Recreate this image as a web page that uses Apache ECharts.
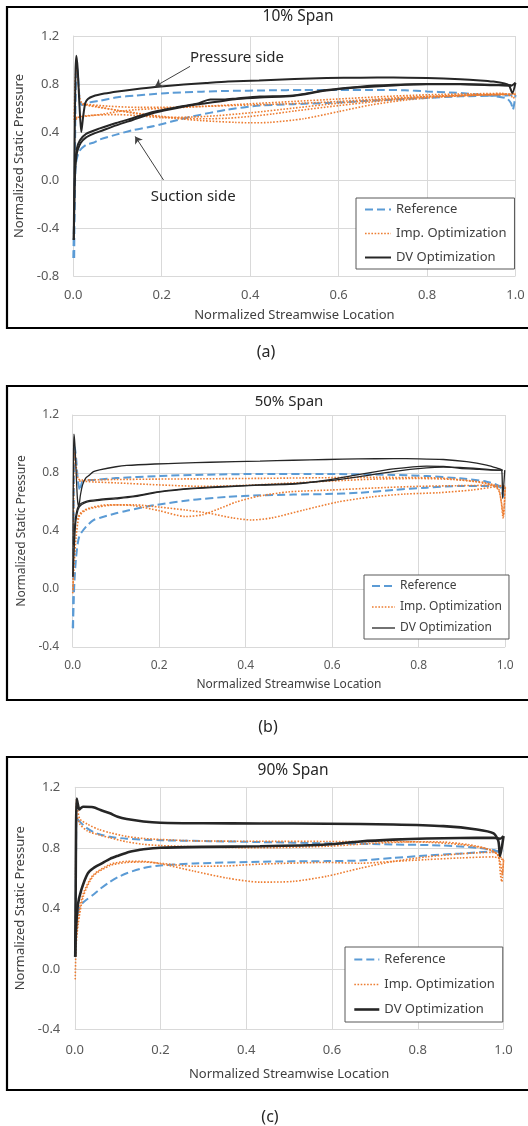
<!DOCTYPE html>
<html>
<head>
<meta charset="utf-8">
<script src="https://cdn.jsdelivr.net/npm/echarts@6/dist/echarts.min.js"></script>
<style>html,body{margin:0;padding:0;background:#fff}#c{width:528px;height:1126px}</style>
</head>
<body>
<div id="c"></div>
<script>
// ---------- tick labels / categories ----------
const seriesNames = ['Reference', 'Imp. Optimization', 'DV Optimization'];
const panelTitles = ['10% Span', '50% Span', '90% Span'];
const panelTags = ['(a)', '(b)', '(c)'];
const xTitle = 'Normalized Streamwise Location';
const yTitle = 'Normalized Static Pressure';
const yMins = [-0.8, -0.4, -0.4];
const yMaxs = [1.2, 1.2, 1.2];

// ---------- Panel (a) 10% span ----------
const a_ref_ps = [[0.002,-0.65],[0.004,0.3],[0.006,0.85],[0.008,0.95],[0.011,0.85],[0.015,0.65],[0.02,0.625],[0.029,0.64],[0.059,0.66],[0.1,0.69],[0.139,0.703],[0.183,0.717],[0.215,0.725],[0.291,0.736],[0.35,0.742],[0.444,0.747],[0.52,0.75],[0.6,0.75],[0.7,0.75],[0.75,0.748],[0.8,0.738],[0.85,0.73],[0.9,0.718],[0.95,0.7],[0.98,0.68],[0.99,0.64],[0.994,0.586],[1.0,0.71]];
const a_ref_ss = [[0.0,-0.65],[0.002,-0.3],[0.004,0.0],[0.006,0.14],[0.0136,0.24],[0.029,0.294],[0.045,0.31],[0.059,0.336],[0.097,0.378],[0.134,0.415],[0.183,0.45],[0.22,0.485],[0.27,0.53],[0.347,0.586],[0.422,0.62],[0.497,0.632],[0.573,0.642],[0.649,0.656],[0.724,0.67],[0.8,0.683],[0.875,0.697],[0.95,0.703],[0.98,0.705],[1.0,0.71]];
const a_imp_1 = [[0.002,0.5],[0.004,0.8],[0.007,0.95],[0.01,0.85],[0.015,0.68],[0.02,0.64],[0.035,0.625],[0.07,0.6],[0.1,0.58],[0.139,0.56],[0.2,0.525],[0.29,0.495],[0.367,0.48],[0.4,0.477],[0.444,0.48],[0.52,0.51],[0.6,0.57],[0.672,0.625],[0.748,0.665],[0.825,0.69],[0.9,0.705],[0.95,0.712],[0.98,0.715],[1.0,0.72]];
const a_imp_2 = [[0.002,0.48],[0.01,0.52],[0.03,0.535],[0.06,0.545],[0.1,0.57],[0.14,0.585],[0.215,0.6],[0.29,0.612],[0.37,0.622],[0.444,0.63],[0.52,0.64],[0.6,0.655],[0.675,0.672],[0.75,0.69],[0.825,0.7],[0.9,0.71],[0.98,0.715],[1.0,0.72]];
const a_imp_3 = [[0.02,0.63],[0.05,0.61],[0.1,0.58],[0.15,0.55],[0.2,0.53],[0.25,0.515],[0.3,0.51],[0.35,0.515],[0.4,0.53],[0.45,0.55],[0.5,0.575],[0.6,0.62],[0.7,0.66],[0.8,0.69],[0.9,0.705],[0.98,0.712]];
const a_imp_4 = [[0.03,0.63],[0.08,0.615],[0.15,0.605],[0.2,0.605],[0.3,0.615],[0.4,0.635],[0.5,0.655],[0.6,0.675],[0.7,0.695],[0.8,0.71],[0.9,0.718],[0.97,0.722],[0.99,0.7],[0.995,0.68],[1.0,0.73]];
const a_imp_5 = [[0.006,0.52],[0.05,0.54],[0.1,0.545],[0.15,0.535],[0.2,0.52],[0.3,0.53],[0.4,0.56],[0.5,0.6],[0.6,0.64],[0.7,0.67],[0.8,0.695],[0.9,0.708],[0.98,0.715]];
const a_dv_ps = [[0.001,-0.5],[0.003,0.3],[0.005,0.9],[0.007,1.035],[0.01,0.92],[0.014,0.62],[0.018,0.4],[0.022,0.52],[0.027,0.64],[0.033,0.675],[0.045,0.698],[0.07,0.72],[0.1,0.738],[0.14,0.757],[0.185,0.775],[0.25,0.795],[0.3,0.808],[0.35,0.82],[0.42,0.83],[0.5,0.842],[0.573,0.85],[0.65,0.853],[0.724,0.855],[0.8,0.85],[0.875,0.84],[0.92,0.83],[0.95,0.82],[0.975,0.805],[0.985,0.79],[0.993,0.725],[1.0,0.81]];
const a_dv_ss1 = [[0.001,-0.5],[0.003,-0.1],[0.0045,0.09],[0.007,0.2],[0.01,0.25],[0.017,0.31],[0.029,0.355],[0.045,0.385],[0.06,0.405],[0.097,0.455],[0.134,0.5],[0.183,0.56],[0.22,0.59],[0.27,0.625],[0.3,0.64],[0.33,0.655],[0.37,0.675],[0.422,0.688],[0.497,0.7],[0.573,0.745],[0.649,0.772],[0.724,0.788],[0.8,0.797],[0.875,0.797],[0.95,0.79],[0.99,0.786],[1.0,0.81]];
const a_dv_ss2 = [[0.004,0.12],[0.008,0.26],[0.015,0.33],[0.029,0.385],[0.06,0.43],[0.097,0.475],[0.134,0.515],[0.183,0.57],[0.24,0.61],[0.28,0.635],[0.31,0.67],[0.34,0.67],[0.37,0.68],[0.422,0.695],[0.497,0.705],[0.573,0.75],[0.649,0.778],[0.724,0.793],[0.8,0.8],[0.875,0.8],[0.95,0.793],[0.99,0.79]];

// ---------- Panel (b) 50% span ----------
const b_ref_ps = [[0.001,-0.27],[0.002,0.3],[0.003,0.8],[0.005,0.98],[0.008,0.9],[0.012,0.75],[0.017,0.68],[0.023,0.745],[0.048,0.752],[0.1,0.765],[0.2,0.779],[0.3,0.788],[0.433,0.793],[0.587,0.793],[0.741,0.787],[0.818,0.779],[0.895,0.763],[0.957,0.74],[0.988,0.706],[0.996,0.637],[1.0,0.7]];
const b_ref_ss = [[0.0,-0.27],[0.002,-0.1],[0.004,0.05],[0.008,0.223],[0.015,0.361],[0.031,0.43],[0.048,0.475],[0.062,0.49],[0.1,0.522],[0.125,0.54],[0.189,0.578],[0.279,0.615],[0.356,0.635],[0.433,0.646],[0.51,0.651],[0.587,0.655],[0.664,0.664],[0.741,0.683],[0.818,0.699],[0.895,0.71],[0.972,0.71],[1.0,0.7]];
const b_imp_1 = [[0.001,0.0],[0.002,0.5],[0.003,0.9],[0.005,0.95],[0.008,0.85],[0.012,0.76],[0.02,0.752],[0.1,0.755],[0.2,0.758],[0.3,0.76],[0.433,0.763],[0.5,0.765],[0.6,0.768],[0.7,0.77],[0.8,0.768],[0.85,0.765],[0.9,0.752],[0.95,0.735],[0.975,0.715],[0.985,0.69],[0.991,0.6],[0.995,0.49],[1.0,0.7]];
const b_imp_2 = [[0.015,0.745],[0.05,0.738],[0.1,0.732],[0.2,0.718],[0.3,0.708],[0.4,0.715],[0.5,0.73],[0.6,0.745],[0.7,0.758],[0.8,0.762],[0.88,0.755],[0.93,0.74],[0.97,0.715],[0.985,0.68],[0.992,0.58],[0.996,0.5],[1.0,0.71]];
const b_imp_3 = [[0.0,-0.03],[0.002,0.08],[0.004,0.2],[0.008,0.36],[0.015,0.5],[0.031,0.545],[0.062,0.568],[0.1,0.58],[0.14,0.575],[0.2,0.54],[0.261,0.5],[0.3,0.512],[0.34,0.555],[0.378,0.6],[0.43,0.64],[0.5,0.67],[0.6,0.683],[0.7,0.697],[0.8,0.708],[0.9,0.713],[0.97,0.715],[1.0,0.71]];
const b_imp_4 = [[0.01,0.48],[0.02,0.53],[0.04,0.56],[0.08,0.58],[0.144,0.58],[0.2,0.565],[0.26,0.545],[0.316,0.522],[0.37,0.49],[0.414,0.476],[0.46,0.49],[0.535,0.545],[0.613,0.6],[0.691,0.635],[0.769,0.655],[0.846,0.664],[0.924,0.683],[0.98,0.706],[1.0,0.71]];
const b_dv_ps = [[0.0005,0.085],[0.001,0.5],[0.002,0.95],[0.003,1.068],[0.005,1.0],[0.008,0.8],[0.011,0.62],[0.014,0.568],[0.018,0.65],[0.023,0.72],[0.03,0.765],[0.039,0.786],[0.048,0.81],[0.062,0.822],[0.1,0.843],[0.125,0.852],[0.19,0.862],[0.25,0.868],[0.318,0.874],[0.433,0.882],[0.51,0.888],[0.587,0.893],[0.66,0.897],[0.741,0.899],[0.8,0.898],[0.857,0.893],[0.911,0.878],[0.957,0.855],[0.98,0.835],[0.992,0.82],[0.994,0.625],[0.999,0.82]];
const b_dv_ss1 = [[0.0005,0.085],[0.004,0.315],[0.0077,0.476],[0.015,0.565],[0.031,0.598],[0.062,0.611],[0.1,0.622],[0.139,0.635],[0.2,0.668],[0.279,0.692],[0.356,0.705],[0.433,0.716],[0.51,0.724],[0.587,0.75],[0.664,0.79],[0.741,0.828],[0.818,0.848],[0.857,0.845],[0.895,0.832],[0.94,0.825],[0.972,0.82],[0.994,0.82]];
const b_dv_ss2 = [[0.002,0.3],[0.006,0.48],[0.014,0.575],[0.031,0.605],[0.062,0.618],[0.1,0.628],[0.139,0.64],[0.2,0.672],[0.279,0.695],[0.356,0.708],[0.433,0.718],[0.51,0.726],[0.587,0.745],[0.664,0.775],[0.741,0.81],[0.818,0.835],[0.857,0.84],[0.895,0.838],[0.94,0.83],[0.972,0.822],[0.994,0.82]];

// ---------- Panel (c) 90% span ----------
const c_ref_ps = [[0.002,0.3],[0.003,0.8],[0.004,1.0],[0.0106,0.976],[0.026,0.935],[0.043,0.905],[0.057,0.89],[0.082,0.873],[0.121,0.86],[0.199,0.85],[0.315,0.844],[0.432,0.838],[0.588,0.83],[0.743,0.822],[0.86,0.815],[0.938,0.8],[0.977,0.785],[0.992,0.771],[1.0,0.78]];
const c_ref_ss = [[0.002,0.28],[0.005,0.33],[0.01,0.4],[0.02,0.44],[0.043,0.49],[0.06,0.53],[0.082,0.575],[0.1,0.605],[0.121,0.632],[0.16,0.666],[0.199,0.683],[0.277,0.696],[0.432,0.708],[0.588,0.712],[0.666,0.716],[0.743,0.733],[0.821,0.749],[0.899,0.762],[0.977,0.776],[1.0,0.78]];
const c_imp_1 = [[0.002,0.6],[0.003,1.0],[0.0044,1.12],[0.007,1.05],[0.012,0.99],[0.03,0.955],[0.057,0.92],[0.082,0.9],[0.121,0.875],[0.16,0.862],[0.2,0.855],[0.277,0.846],[0.432,0.843],[0.588,0.842],[0.743,0.84],[0.821,0.837],[0.899,0.822],[0.95,0.8],[0.975,0.78],[0.988,0.745],[0.993,0.62],[0.996,0.575],[1.0,0.72]];
const c_imp_2 = [[0.006,1.0],[0.012,0.955],[0.03,0.91],[0.057,0.885],[0.082,0.866],[0.121,0.84],[0.16,0.823],[0.2,0.815],[0.277,0.807],[0.432,0.8],[0.588,0.81],[0.7,0.83],[0.8,0.84],[0.86,0.838],[0.92,0.82],[0.96,0.795],[0.985,0.76],[0.993,0.7],[0.997,0.62],[1.0,0.72]];
const c_imp_3 = [[0.001,-0.07],[0.003,0.15],[0.008,0.3],[0.02,0.48],[0.043,0.613],[0.082,0.683],[0.121,0.703],[0.16,0.706],[0.199,0.698],[0.277,0.678],[0.355,0.68],[0.432,0.692],[0.588,0.703],[0.666,0.698],[0.743,0.71],[0.821,0.722],[0.899,0.733],[0.977,0.74],[1.0,0.72]];
const c_imp_4 = [[0.003,0.2],[0.01,0.38],[0.02,0.5],[0.043,0.62],[0.082,0.69],[0.121,0.71],[0.16,0.71],[0.199,0.695],[0.277,0.646],[0.355,0.6],[0.432,0.573],[0.51,0.578],[0.588,0.612],[0.666,0.665],[0.743,0.71],[0.821,0.74],[0.899,0.76],[0.977,0.77],[1.0,0.72]];
const c_dv_ps = [[0.001,0.08],[0.002,0.5],[0.003,0.95],[0.0044,1.125],[0.007,1.09],[0.0106,1.053],[0.015,1.065],[0.02,1.071],[0.043,1.068],[0.06,1.05],[0.082,1.028],[0.1,1.005],[0.121,0.99],[0.16,0.974],[0.2,0.966],[0.3,0.962],[0.432,0.961],[0.588,0.959],[0.743,0.954],[0.86,0.943],[0.938,0.921],[0.977,0.895],[0.988,0.845],[0.992,0.745],[1.0,0.877]];
const c_dv_ss = [[0.001,0.08],[0.003,0.27],[0.007,0.42],[0.015,0.52],[0.03,0.63],[0.043,0.665],[0.062,0.695],[0.082,0.727],[0.101,0.748],[0.121,0.768],[0.14,0.78],[0.16,0.79],[0.2,0.8],[0.3,0.806],[0.432,0.81],[0.588,0.822],[0.666,0.842],[0.743,0.854],[0.821,0.861],[0.899,0.865],[0.977,0.866],[0.992,0.86],[1.0,0.877]];

// annotation anchor points (data coords) for panel (a)
const pressureArrow = [[0.264,0.947],[0.185,0.78]];
const suctionArrow = [[0.204,0.0],[0.14,0.363]];
const pressureLabel = [0.37,1.02];
const suctionLabel = [0.271,-0.14];

// ---------- styling / layout ----------
const FONT = "'Noto Sans', 'Open Sans', sans-serif";
const BLUE = '#5B9BD5', ORANGE = '#ED7D31', BLACK = '#262626';
const grids = [
  {left: 73.3, top: 36, width: 442.2, height: 240},
  {left: 72.7, top: 415, width: 432.5, height: 232},
  {left: 74.8, top: 787.3, width: 428.7, height: 242}
];
const fs = [13, 12, 13];
const dvWidth = [2, 1.3, 2.6];
const xLabelMargin = [13, 12.5, 14];
const xNameGap = [33, 32, 38];
const yNameGap = [45, 41, 45];
const yLabelMargin = [14, 13.5, 14.5];
const legendPos = [
  {left: 356, top: 198, gap: 11, pad: [5, 8, 5, 8], iw: 26},
  {left: 364, top: 575, gap: 9, pad: [5, 7, 5, 7], iw: 23},
  {left: 345, top: 947, gap: 12, pad: [6, 8, 6, 8], iw: 25}
];
const boxes = [[7, 7, 530, 321], [7, 386, 530, 314], [7, 757, 530, 333]];
const titlePos = [[298, 17, 15.5], [289, 402, 15], [293, 771, 15.5]];
const tagPos = [[266, 352], [268, 727], [270, 1117]];

function styleOf(kind, g) {
  if (kind === 0) return {color: BLUE, width: 2, type: [8, 4]};
  if (kind === 1) return {color: ORANGE, width: 1.6, type: [1.6, 1.6]};
  return {color: BLACK, width: dvWidth[g], type: 'solid'};
}
function mk(kind, g, data, extra) {
  return Object.assign({
    type: 'line', name: seriesNames[kind], data: data,
    xAxisIndex: g, yAxisIndex: g, symbol: 'none', showSymbol: false,
    smooth: 0.25, lineStyle: styleOf(kind, g), itemStyle: {color: styleOf(kind, g).color},
    z: 2 + kind, silent: true
  }, extra || {});
}

const series = [
  mk(0,0,a_ref_ps), mk(0,0,a_ref_ss),
  mk(1,0,a_imp_1), mk(1,0,a_imp_2), mk(1,0,a_imp_3), mk(1,0,a_imp_4), mk(1,0,a_imp_5),
  mk(2,0,a_dv_ps,{markLine:{silent:true, symbol:['none','arrow'], symbolSize:7, animation:false,
      lineStyle:{color:'#404040', width:1, type:'solid'}, label:{show:false},
      data:[[{coord:pressureArrow[0]},{coord:pressureArrow[1]}],[{coord:suctionArrow[0]},{coord:suctionArrow[1]}]]}}),
  mk(2,0,a_dv_ss1), mk(2,0,a_dv_ss2),
  mk(0,1,b_ref_ps), mk(0,1,b_ref_ss),
  mk(1,1,b_imp_1), mk(1,1,b_imp_2), mk(1,1,b_imp_3), mk(1,1,b_imp_4),
  mk(2,1,b_dv_ps), mk(2,1,b_dv_ss1), mk(2,1,b_dv_ss2),
  mk(0,2,c_ref_ps), mk(0,2,c_ref_ss),
  mk(1,2,c_imp_1), mk(1,2,c_imp_2), mk(1,2,c_imp_3), mk(1,2,c_imp_4),
  mk(2,2,c_dv_ps), mk(2,2,c_dv_ss)
];

const gridLine = '#d9d9d9';
const xAxes = grids.map((g, i) => ({
  gridIndex: i, type: 'value', min: 0, max: 1, interval: 0.2,
  name: xTitle, nameLocation: 'middle', nameGap: xNameGap[i],
  nameTextStyle: {fontFamily: FONT, fontSize: fs[i], color: '#404040'},
  axisLine: {show: true, lineStyle: {color: gridLine}}, axisTick: {show: false},
  splitLine: {show: true, lineStyle: {color: gridLine}},
  axisLabel: {margin: xLabelMargin[i], fontFamily: FONT, fontSize: fs[i], color: '#595959', formatter: v => v.toFixed(1)}
}));
const yAxes = grids.map((g, i) => ({
  gridIndex: i, type: 'value', min: yMins[i], max: yMaxs[i], interval: 0.4,
  name: yTitle, nameLocation: 'middle', nameGap: yNameGap[i],
  nameTextStyle: {fontFamily: FONT, fontSize: fs[i], color: '#404040'},
  axisLine: {show: true, lineStyle: {color: gridLine}}, axisTick: {show: false},
  splitLine: {show: true, lineStyle: {color: gridLine}},
  axisLabel: {margin: yLabelMargin[i], fontFamily: FONT, fontSize: fs[i], color: '#595959', formatter: v => v.toFixed(1)}
}));

const legends = legendPos.map((p, i) => ({
  orient: 'vertical', left: p.left, top: p.top, itemWidth: p.iw, itemHeight: 14, itemGap: p.gap,
  padding: p.pad, borderColor: '#595959', borderWidth: 1, backgroundColor: '#fff',
  selectedMode: false, textStyle: {fontFamily: FONT, fontSize: fs[i], color: '#404040'},
  data: seriesNames.map((n, k) => ({name: n, lineStyle: styleOf(k, i),
    itemStyle: {color: 'rgba(0,0,0,0)', borderWidth: 0, opacity: 0}}))
}));

const chart = echarts.init(document.getElementById('c'), null, {renderer: 'canvas'});
chart.setOption({
  animation: false, backgroundColor: '#fff',
  grid: grids, xAxis: xAxes, yAxis: yAxes, legend: legends, series: series
});

const pl = chart.convertToPixel({gridIndex: 0}, pressureLabel);
const sl = chart.convertToPixel({gridIndex: 0}, suctionLabel);
const graphics = [];
boxes.forEach(b => graphics.push({type: 'rect', silent: true, z: 100,
  shape: {x: b[0], y: b[1], width: b[2], height: b[3]}, style: {fill: 'none', stroke: '#000', lineWidth: 2.2}}));
titlePos.forEach((t, i) => graphics.push({type: 'text', silent: true, x: t[0], y: t[1],
  style: {text: panelTitles[i], font: t[2] + 'px ' + FONT, fill: '#262626', textAlign: 'center', textVerticalAlign: 'middle', align: 'center', verticalAlign: 'middle'}}));
tagPos.forEach((t, i) => graphics.push({type: 'text', silent: true, x: t[0], y: t[1],
  style: {text: panelTags[i], font: '16px ' + FONT, fill: '#262626', textAlign: 'center', textVerticalAlign: 'middle', align: 'center', verticalAlign: 'middle'}}));
[[pl, 'Pressure side'], [sl, 'Suction side']].forEach(a => graphics.push({type: 'text', silent: true, x: a[0][0], y: a[0][1], z: 50,
  style: {text: a[1], font: '15px ' + FONT, fill: '#262626', textAlign: 'center', textVerticalAlign: 'middle', align: 'center', verticalAlign: 'middle'}}));
chart.setOption({graphic: graphics});
</script>
</body>
</html>
